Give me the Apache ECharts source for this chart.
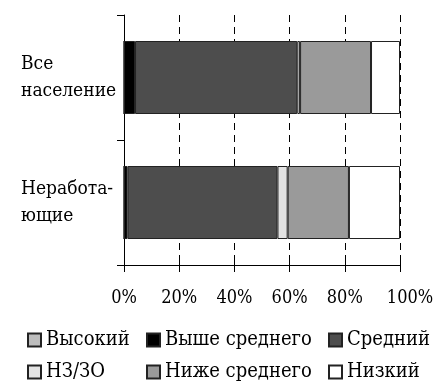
<!DOCTYPE html>
<html><head><meta charset="utf-8">
<script src="https://cdn.jsdelivr.net/npm/echarts@6/dist/echarts.min.js"></script>
<style>html,body{margin:0;padding:0;background:#fff}#c{width:437px;height:385px}</style>
</head><body><div id="c"></div>
<script>
const categories = ['Все\nнаселение', 'Неработа-\nющие'];
const seriesNames = ['Высокий', 'Выше среднего', 'Средний', 'НЗ/ЗО', 'Ниже среднего', 'Низкий'];
const seriesColors = ['#bdbdbd', '#000000', '#4d4d4d', '#e3e3e3', '#9a9a9a', '#ffffff'];
const vysokiy = [0, 0];
const vysheSrednego = [4.0, 1.3];
const sredniy = [58.8, 54.3];
const nzzo = [1.0, 3.7];
const nizheSrednego = [25.7, 22.2];
const nizkiy = [10.5, 18.5];
const xTicks = [0, 20, 40, 60, 80, 100];
const values = [vysokiy, vysheSrednego, sredniy, nzzo, nizheSrednego, nizkiy];

const font = "'DejaVu Serif Condensed', 'DejaVu Serif'";
const legendLefts = [27, 146, 328, 27, 146, 328];
const legendTops = [330, 330, 330, 362, 362, 362];

const chart = echarts.init(document.getElementById('c'));
chart.setOption({
  animation: false,
  textStyle: { fontFamily: font, color: '#000' },
  grid: { left: 124, right: 37, top: 15, bottom: 120 },
  xAxis: [{
    type: 'value', min: xTicks[0], max: xTicks[xTicks.length - 1], interval: 20,
    axisLine: { show: true, lineStyle: { color: '#000', width: 1 } },
    axisTick: { show: true, length: 7, lineStyle: { color: '#000' } },
    axisLabel: {
      formatter: v => v === 100 ? '{r|' + v + '%}' : v + '%',
      fontFamily: font, fontSize: 18, color: '#000', margin: 24,
      rich: { r: { fontFamily: font, fontSize: 18, color: '#000', padding: [0, 0, 0, 20] } }
    },
    splitLine: { show: true, lineStyle: { color: '#000', type: [7, 5], width: 1 } }
  }, {
    type: 'value', min: 0, max: 100, interval: 20, position: 'bottom',
    axisLine: { show: false },
    axisTick: { show: true, inside: true, length: 7, lineStyle: { color: '#000' } },
    axisLabel: { show: false }, splitLine: { show: false }
  }],
  yAxis: {
    type: 'category', data: categories, inverse: true,
    axisLine: { show: true, lineStyle: { color: '#000', width: 1 } },
    axisTick: { show: true, length: 7, lineStyle: { color: '#000' } },
    axisLabel: { align: 'left', margin: 103, fontFamily: font, fontSize: 19, color: '#000', lineHeight: 27 }
  },
  legend: seriesNames.map((n, i) => ({
    data: [n], left: legendLefts[i], top: legendTops[i], padding: 0, itemWidth: 13, itemHeight: 13,
    itemGap: 0, textStyle: { fontFamily: font, fontSize: 20, color: '#000' }, icon: 'rect',
    selectedMode: false
  })),
  series: seriesNames.map((n, i) => ({
    name: n, type: 'bar', stack: 'total', barWidth: 73, data: values[i],
    itemStyle: { color: seriesColors[i], borderColor: '#222', borderWidth: 1 }
  }))
});
</script></body></html>
